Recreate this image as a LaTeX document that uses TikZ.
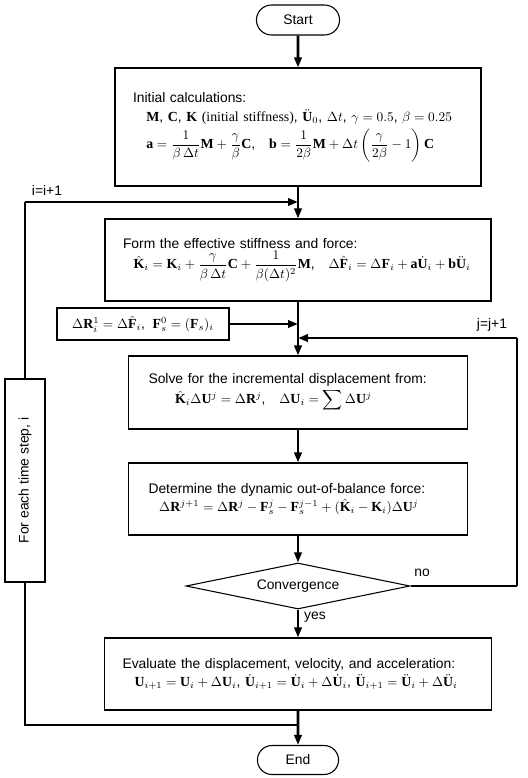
\documentclass[tikz,border=0pt]{standalone}
\usepackage{amsmath,amssymb}
\usepackage{fontspec}
\setmainfont{Liberation Sans}
\setmathrm{Liberation Serif}
\setboldmathrm{Liberation Serif}
\newfontfamily\serifrm{Liberation Serif}
\usepackage{tikz}
\usetikzlibrary{shapes.geometric, shapes.misc, arrows.meta, positioning, calc}

\begin{document}
\begin{tikzpicture}[x=0.75pt, y=-0.75pt,
    every node/.style={font=\fontsize{10.4}{12.5}\selectfont},
    procbox/.style={draw, line width=0.8pt, inner xsep=13.5pt, align=left},
    termbox/.style={draw, line width=0.8pt, rounded rectangle, minimum width=69pt, minimum height=22.5pt},
    flow/.style={line width=2pt, -{Triangle[length=7.5pt,width=5.5pt]}},
    loopline/.style={line width=0.8pt}]
  \useasboundingbox (0,0) rectangle (528,778);

  % Start / End
  \node[termbox] (start) at (298,20) {Start};
  \node[termbox, minimum width=67.5pt, minimum height=21.75pt] (finish) at (298,760) {End};

  % Initial calculations
  \node[procbox, text width=247.5pt, minimum height=88.5pt] (init) at (298,127) {Initial calculations:\\[2pt]
    \hspace*{10pt}$\mathbf{M}$, $\mathbf{C}$, $\mathbf{K}$ {\serifrm(initial stiffness)}, $\ddot{\mathbf{U}}_0$, $\Delta t$, $\gamma=0.5$, $\beta=0.25$\\[2pt]
    \hspace*{10pt}$\mathbf{a}=\dfrac{1}{\beta\,\Delta t}\mathbf{M}+\dfrac{\gamma}{\beta}\mathbf{C}$,\quad
    $\mathbf{b}=\dfrac{1}{2\beta}\mathbf{M}+\Delta t\left(\dfrac{\gamma}{2\beta}-1\right)\mathbf{C}$};

  % Effective stiffness and force
  \node[procbox, text width=262.5pt, minimum height=61.5pt] (effect) at (298,260) {Form the effective stiffness and force:\\[1pt]
    \hspace*{8pt}$\hat{\mathbf{K}}_i=\mathbf{K}_i+\dfrac{\gamma}{\beta\,\Delta t}\mathbf{C}+\dfrac{1}{\beta(\Delta t)^2}\mathbf{M}$,\quad
    $\Delta\hat{\mathbf{F}}_i=\Delta\mathbf{F}_i+\mathbf{a}\dot{\mathbf{U}}_i+\mathbf{b}\ddot{\mathbf{U}}_i$};

  % Residual start values
  \node[draw, line width=0.8pt, minimum width=129pt, minimum height=24pt] (resid) at (143,324)
    {$\Delta\mathbf{R}_i^1=\Delta\hat{\mathbf{F}}_i$,\; $\mathbf{F}_s^0=(\mathbf{F}_s)_i$};

  % Incremental displacement
  \node[procbox, inner xsep=15pt, text width=224.25pt, minimum height=54.75pt] (solve) at (298,392.5) {Solve for the incremental displacement from:\\[1pt]
    \hspace*{20pt}$\hat{\mathbf{K}}_i\Delta\mathbf{U}^j=\Delta\mathbf{R}^j$,\quad $\Delta\mathbf{U}_i=\displaystyle\sum\Delta\mathbf{U}^j$};

  % Out-of-balance force
  \node[procbox, inner xsep=15pt, text width=224.25pt, minimum height=54pt] (balance) at (298,499) {Determine the dynamic out-of-balance force:\\[1pt]
    \hspace*{8pt}$\Delta\mathbf{R}^{j+1}=\Delta\mathbf{R}^j-\mathbf{F}_s^j-\mathbf{F}_s^{j-1}+(\hat{\mathbf{K}}_i-\mathbf{K}_i)\Delta\mathbf{U}^j$};

  % Convergence check
  \node[draw, diamond, aspect=4.87, line width=0.8pt, inner sep=0pt, minimum width=168pt, minimum height=34.5pt] (conv) at (298,586) {Convergence};

  % Update
  \node[procbox, text width=263.25pt, minimum height=54pt] (update) at (298,674) {Evaluate the displacement, velocity, and acceleration:\\[1pt]
    \hspace*{9pt}$\mathbf{U}_{i+1}=\mathbf{U}_i+\Delta\mathbf{U}_i$, $\dot{\mathbf{U}}_{i+1}=\dot{\mathbf{U}}_i+\Delta\dot{\mathbf{U}}_i$, $\ddot{\mathbf{U}}_{i+1}=\ddot{\mathbf{U}}_i+\Delta\ddot{\mathbf{U}}_i$};

  % Time step loop
  \node[draw, line width=0.8pt, rotate=90, minimum width=152.25pt, minimum height=30pt] (tstep) at (25,480.5) {For each time step, i};

  \coordinate (itop) at (25,202);
  \coordinate (ijoin) at (298,202);
  \coordinate (ibot) at (25,725);
  \coordinate (rjoin) at (298,324);
  \coordinate (jjoin) at (298,338);
  \coordinate (jcorner) at (517,586);
  \coordinate (jright) at (517,338);

  % Main flow
  \draw[flow] (start) -- (init);
  \draw[flow] (init) -- (effect);
  \draw[flow] (effect) -- (solve);
  \draw[flow] (solve) -- (balance);
  \draw[flow] (balance) -- (conv);
  \draw[flow] (conv) -- (update);
  \draw[flow] (update) -- (finish);
  \draw[flow] (resid.east) -- (rjoin);

  % Iteration loop
  \draw[loopline] (conv.east) -- (jcorner);
  \draw[line width=1.2pt] (jcorner) -- (jright);
  \draw[flow] (jright) -- (jjoin);
  \node at (492,325) {j=j+1};
  \node at (422,573) {no};
  \node at (315,617) {yes};

  % Time loop
  \draw[loopline] (ibot -| finish.north) -- (ibot) -- (tstep.west);
  \draw[loopline] (tstep.east) -- (itop);
  \draw[flow] (itop) -- (ijoin);
  \node at (47,190) {i=i+1};
\end{tikzpicture}
\end{document}
